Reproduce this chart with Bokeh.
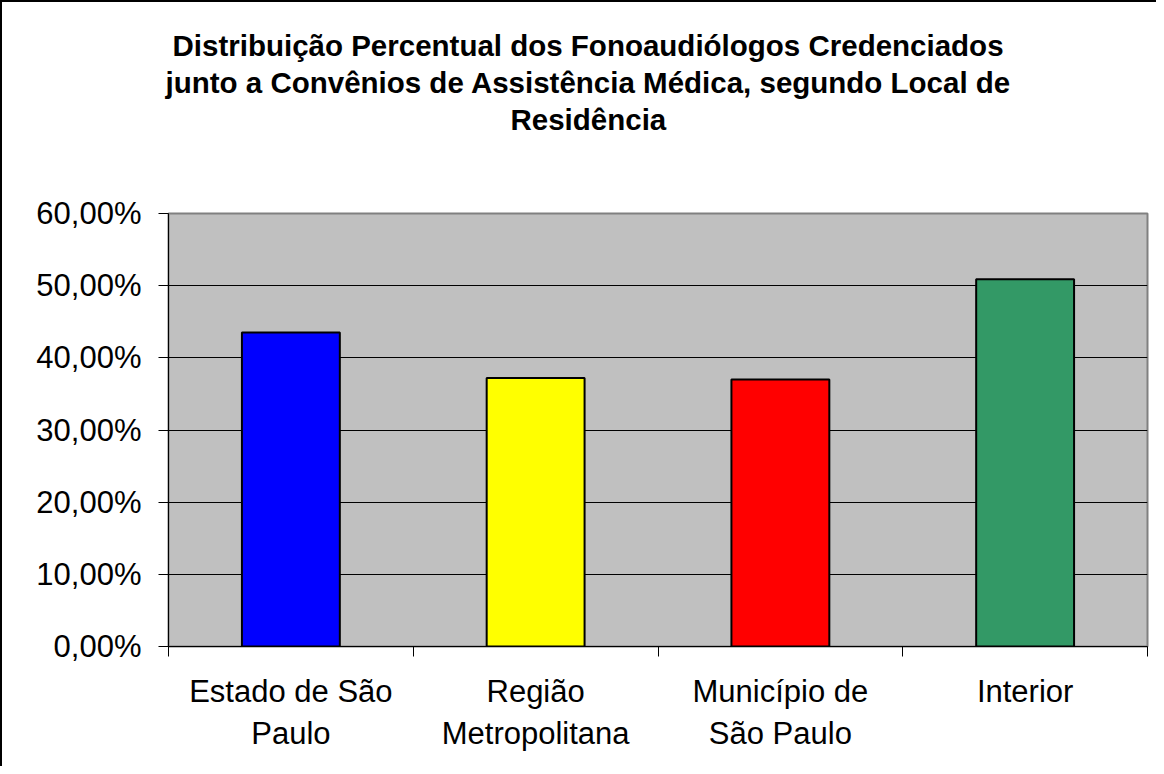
from bokeh.plotting import figure
from bokeh.models import Range1d, FixedTicker, Title, ColumnDataSource
from bokeh.embed import file_html
from bokeh.resources import INLINE

categories = ["Estado de São\nPaulo", "Região\nMetropolitana", "Município de\nSão Paulo", "Interior"]
values = [43.5, 37.2, 37.0, 50.9]
colors = ["#0000FF", "#FFFF00", "#FF0000", "#339966"]
y_ticks = [0, 10, 20, 30, 40, 50, 60]
y_tick_labels = ["0,00%", "10,00%", "20,00%", "30,00%", "40,00%", "50,00%", "60,00%"]
title_lines = [
    "Distribuição Percentual dos Fonoaudiólogos Credenciados",
    "junto a Convênios de Assistência Médica, segundo Local de",
    "Residência",
]
title_offsets = [4, -3, 342]

FONT = "Liberation Sans"

xpos = [i + 0.5 for i in range(len(categories))]
src = ColumnDataSource(dict(x=xpos, top=values, color=colors))

p = figure(width=1156, height=766, output_backend="svg", toolbar_location=None,
           x_range=Range1d(0, len(categories)), y_range=Range1d(0, 60),
           min_border_left=166, min_border_right=11, min_border_top=211, min_border_bottom=122)

p.background_fill_color = "#C0C0C0"
p.border_fill_color = "white"
p.outline_line_color = "#808080"
p.outline_line_width = 2

p.vbar(x="x", top="top", width=0.4, bottom=0, fill_color="color",
       line_color="black", line_width=2, source=src)

# axes
xa = p.xaxis[0]
xa.ticker = FixedTicker(ticks=xpos, minor_ticks=list(range(len(categories) + 1)))
xa.major_label_overrides = {x: c for x, c in zip(xpos, categories)}
xa.major_tick_out = 0
xa.major_tick_in = 0
xa.minor_tick_out = 10
xa.minor_tick_in = 0
xa.minor_tick_line_color = "black"
xa.axis_line_color = "black"
xa.axis_line_width = 1
xa.major_label_text_font = FONT
xa.major_label_text_font_size = "31px"
xa.major_label_text_color = "black"
xa.major_label_standoff = 17

ya = p.yaxis[0]
ya.ticker = FixedTicker(ticks=y_ticks, minor_ticks=[])
ya.major_label_overrides = {t: l for t, l in zip(y_ticks, y_tick_labels)}
ya.major_tick_out = 10
ya.major_tick_in = 0
ya.axis_line_color = "black"
ya.major_label_text_font = FONT
ya.major_label_text_font_size = "31px"
ya.major_label_text_color = "black"
ya.major_label_standoff = 17

p.xgrid.grid_line_color = None
p.ygrid.grid_line_color = "black"
p.ygrid.grid_line_width = 1
p.ygrid.ticker = FixedTicker(ticks=y_ticks[1:-1])

# spacer between frame and title block
p.add_layout(Title(text=" ", text_font_size="58px"), "above")
for line, off in reversed(list(zip(title_lines, title_offsets))):
    p.add_layout(Title(text=line, align="left", offset=off, standoff=2, text_font=FONT,
                       text_font_size="29.5px", text_font_style="bold",
                       text_color="black"), "above")

p.styles = {"border-left": "2px solid black", "border-top": "2px solid black"}

open("out.html", "w").write(file_html(p, INLINE))
